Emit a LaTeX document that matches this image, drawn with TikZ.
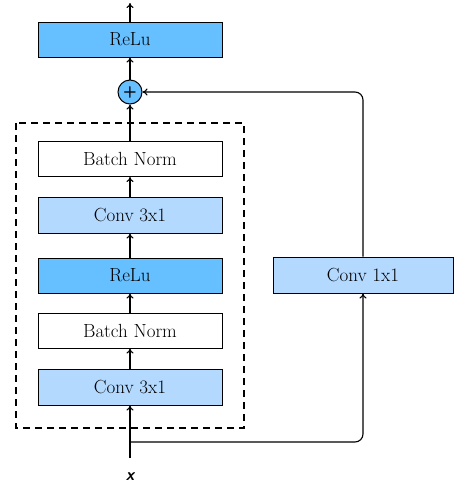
\documentclass[tikz,border=0pt]{standalone}
\usetikzlibrary{arrows.meta}
\definecolor{dblue}{HTML}{66BFFF}
\definecolor{lblue}{HTML}{B3D9FF}
\begin{document}
\begin{tikzpicture}[x=1pt,y=-1pt,
  blk/.style={draw=black,line width=1pt,minimum width=184pt,minimum height=35pt,inner sep=0pt,font=\fontsize{19}{22}\selectfont},
  arr/.style={-{To[length=5pt,width=7pt]},line width=1.1pt}]
\useasboundingbox (0,0) rectangle (454,488);
\draw[dashed,line width=1.1pt,dash pattern=on 7pt off 5pt] (16,123) rectangle (244,428);
\node[blk,fill=dblue] (relu2) at (130,39.5) {ReLu};
\node[draw,circle,fill=dblue,line width=1pt,minimum size=24pt,inner sep=0pt,font=\sffamily\bfseries\fontsize{16}{18}\selectfont] (plus) at (130,92) {+};
\node[blk,fill=white] (bn2) at (130,159) {Batch Norm};
\node[blk,fill=lblue,minimum height=36pt] (c2) at (130,215) {Conv 3x1};
\node[blk,fill=dblue] (relu1) at (130,275.5) {ReLu};
\node[blk,fill=white] (bn1) at (130,330.5) {Batch Norm};
\node[blk,fill=lblue,minimum height=36pt] (c1) at (130,387) {Conv 3x1};
\node[blk,fill=lblue,minimum width=180pt,minimum height=36pt] (c11) at (363,275) {Conv 1x1};
\node[font=\sffamily\bfseries\itshape\fontsize{17}{20}\selectfont] (x) at (130,477) {x};
\coordinate (top) at (130,3);
\coordinate (xs) at (130,458);
\coordinate (br) at (130,442);
\draw[arr] (relu2.north) -- (top);
\draw[arr] (plus.north) -- (relu2.south);
\draw[arr] (bn2.north) -- (plus.south);
\draw[arr] (c2.north) -- (bn2.south);
\draw[arr] (relu1.north) -- (c2.south);
\draw[arr] (bn1.north) -- (relu1.south);
\draw[arr] (c1.north) -- (bn1.south);
\draw[arr] (xs) -- (c1.south);
\draw[arr,rounded corners=8pt] (br) -| (c11.south);
\draw[arr,rounded corners=8pt] (c11.north) |- (plus.east);
\end{tikzpicture}
\end{document}
